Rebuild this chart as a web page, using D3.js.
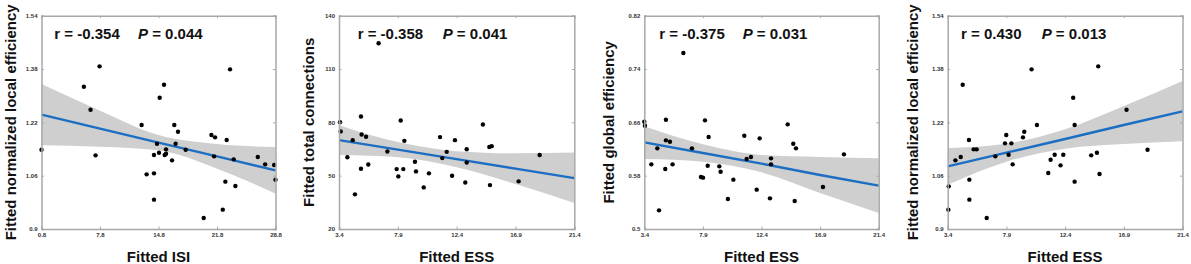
<!DOCTYPE html>
<html><head><meta charset="utf-8">
<script src="https://cdn.jsdelivr.net/npm/d3@7"></script>
<style>body{margin:0;background:#fff}svg{display:block}</style>
</head><body>
<svg id="c" width="1191" height="264"></svg>
<script>
// ---- data ----
const xTicksISI = ["0.8","7.8","14.8","21.8","28.8"];
const xTicksESS = ["3.4","7.9","12.4","16.9","21.4"];
const yTicksLE = ["0.9","1.06","1.22","1.38","1.54"];
const yTicksTC = ["20","50","80","110","140"];
const yTicksGE = ["0.5","0.58","0.66","0.74","0.82"];

const p1X = [0.8,5.87,6.67,7.75,7.27,12.78,13.38,14.26,14.26,14.26,14.62,14.86,14.94,15.46,15.54,15.70,15.70,16.42,16.69,16.85,17.13,18.05,20.21,21.13,21.57,21.45,22.49,22.80,22.96,23.36,23.80,24.00,26.68,27.56,28.64,28.80];
const p1Y = [1.138,1.327,1.258,1.388,1.121,1.212,1.064,1.067,0.988,1.122,1.156,1.129,1.294,1.333,1.122,1.126,1.139,1.106,1.212,1.156,1.192,1.138,0.933,1.182,1.175,1.118,0.958,1.042,1.167,1.379,1.109,1.029,1.116,1.094,1.092,1.048];
const p1Fit = [1.243,1.201,1.159,1.118,1.076];
const p1Upper = [1.335,1.255,1.182,1.155,1.146];
const p1Lower = [1.151,1.147,1.136,1.081,1.006];

const p2X = [3.48,3.53,4.04,4.45,4.62,5.08,5.13,5.08,5.47,5.64,6.43,7.10,7.81,7.94,8.12,8.32,8.40,9.21,9.29,9.88,10.28,11.13,11.30,11.64,12.05,12.27,13.06,13.17,13.17,14.41,14.90,15.08,14.95,17.14,18.75];
const p2Y = [80.1,74.9,60.4,70.0,39.5,83.3,73.2,53.9,71.9,56.3,124.5,63.6,53.7,49.6,81.0,53.7,69.6,57.8,52.4,43.4,51.3,71.7,59.9,63.4,50.0,70.0,46.2,64.9,57.4,78.8,66.1,66.6,44.7,46.8,61.6];
const p2Fit = [70.0,64.65,59.3,53.95,48.6];
const p2Upper = [78.4,68.9,63.8,62.6,63.0];
const p2Lower = [61.6,60.4,54.8,45.3,34.6];

const p3X = [3.40,3.45,3.94,4.40,4.53,5.06,5.06,5.01,5.37,5.57,6.40,7.06,7.75,7.91,8.06,8.27,8.34,9.16,9.26,9.82,10.24,11.08,11.26,11.59,12.03,12.26,13.05,13.13,13.13,14.41,14.84,15.05,14.95,17.12,18.73];
const p3Y = [0.661,0.655,0.597,0.621,0.528,0.664,0.633,0.590,0.631,0.597,0.764,0.621,0.578,0.577,0.663,0.595,0.638,0.594,0.586,0.545,0.574,0.640,0.605,0.608,0.559,0.636,0.546,0.606,0.597,0.657,0.628,0.621,0.542,0.563,0.612];
const p3Fit = [0.630,0.614,0.598,0.581,0.565];
const p3Upper = [0.654,0.627,0.611,0.608,0.606];
const p3Lower = [0.605,0.601,0.585,0.554,0.524];

const p4X = [3.48,3.45,3.99,4.40,4.55,5.03,5.06,5.06,5.39,5.62,6.39,7.05,7.79,7.89,8.07,8.28,8.38,9.17,9.27,9.83,10.24,11.11,11.29,11.60,12.05,12.26,13.02,13.13,13.13,14.40,14.84,14.94,15.04,17.11,18.72];
const p4Y = [1.028,0.958,1.106,1.116,1.333,1.167,1.048,0.988,1.139,1.139,0.933,1.118,1.157,1.182,1.123,1.157,1.094,1.175,1.192,1.379,1.212,1.068,1.108,1.123,1.091,1.123,1.294,1.212,1.042,1.121,1.129,1.388,1.065,1.258,1.138];
const p4Fit = [1.088,1.129,1.170,1.212,1.253];
const p4Upper = [1.143,1.156,1.199,1.269,1.344];
const p4Lower = [1.033,1.102,1.141,1.155,1.163];

const yLabels = ["Fitted normalized local efficiency","Fitted total connections","Fitted global efficiency","Fitted normalized local efficiency"];
const xLabels = ["Fitted ISI","Fitted ESS","Fitted ESS","Fitted ESS"];
const rTexts = ["r = -0.354","r = -0.358","r = -0.375","r = 0.430"];
const pTexts = ["0.044","0.041","0.031","0.013"];

// ---- layout ----
const panels = [
  {L:41.5, R:275.5, yl:10, rx:54.3, px:138, xt:xTicksISI, yt:yTicksLE, X:p1X, Y:p1Y, fit:p1Fit, up:p1Upper, lo:p1Lower},
  {L:339, R:574.3, yl:308, rx:357.7, px:442.7, xt:xTicksESS, yt:yTicksTC, X:p2X, Y:p2Y, fit:p2Fit, up:p2Upper, lo:p2Lower},
  {L:644.3, R:878.7, yl:608, rx:659.3, px:742.7, xt:xTicksESS, yt:yTicksGE, X:p3X, Y:p3Y, fit:p3Fit, up:p3Upper, lo:p3Lower},
  {L:947.7, R:1182.5, yl:912, rx:961, px:1041.7, xt:xTicksESS, yt:yTicksLE, X:p4X, Y:p4Y, fit:p4Fit, up:p4Upper, lo:p4Lower}
];
const T = 15.7, B = 229;
const svg = d3.select("#c");
const font = "'Liberation Sans', Arial, sans-serif";

panels.forEach((p, i) => {
  const xv = p.xt.map(Number), yv = p.yt.map(Number);
  const x = d3.scaleLinear().domain([xv[0], xv[xv.length-1]]).range([p.L, p.R]);
  const y = d3.scaleLinear().domain([yv[0], yv[yv.length-1]]).range([B, T]);
  const g = svg.append("g");

  // band
  const band = p.fit.map((f, k) => ({x: xv[k], u: p.up[k], l: p.lo[k]}));
  g.append("path").datum(band)
    .attr("d", d3.area().x(d => x(d.x)).y0(d => y(d.l)).y1(d => y(d.u)).curve(d3.curveMonotoneX))
    .attr("fill", "#cfcfcf");

  // fit line
  g.append("path").datum(p.fit.map((f, k) => [xv[k], f]))
    .attr("d", d3.line().x(d => x(d[0])).y(d => y(d[1])))
    .attr("fill", "none").attr("stroke", "#1b6ec2").attr("stroke-width", 2.4);

  // dots
  g.selectAll("circle").data(p.X.map((v, k) => [v, p.Y[k]])).join("circle")
    .attr("cx", d => x(d[0])).attr("cy", d => y(d[1])).attr("r", 2.2).attr("fill", "#000");

  // axes (box)
  const ax = g.append("g").attr("font-family", font);
  const bottom = d3.axisBottom(x).tickValues(xv).tickSize(-2.5).tickPadding(4).tickFormat((d, k) => p.xt[k]);
  const left = d3.axisLeft(y).tickValues(yv).tickSize(-2.5).tickPadding(4).tickFormat((d, k) => p.yt[k]);
  const top = d3.axisTop(x).tickValues(xv).tickSize(-2.5).tickFormat("");
  const right = d3.axisRight(y).tickValues(yv).tickSize(-2.5).tickFormat("");
  [[bottom, `translate(0,${B})`], [left, `translate(${p.L},0)`], [top, `translate(0,${T})`], [right, `translate(${p.R},0)`]].forEach(([a, tr]) => {
    const s = ax.append("g").attr("transform", tr).call(a);
    s.select(".domain").attr("stroke", "#a8a8a8").attr("stroke-width", 1.5);
    s.selectAll(".tick line").attr("stroke", "#a8a8a8");
    s.selectAll(".tick text").attr("font-size", 6).attr("font-weight", "bold").attr("fill", "#333");
  });

  // labels
  svg.append("text").attr("transform", `translate(${p.yl},${(T+B)/2}) rotate(-90)`)
    .attr("text-anchor", "middle").attr("dominant-baseline", "central")
    .attr("font-family", font).attr("font-weight", "bold").attr("font-size", 15).attr("fill", "#111")
    .text(yLabels[i]);
  svg.append("text").attr("x", (p.L + p.R) / 2).attr("y", 262)
    .attr("text-anchor", "middle").attr("font-family", font).attr("font-weight", "bold").attr("font-size", 15).attr("fill", "#111")
    .text(xLabels[i]);
  svg.append("text").attr("x", p.rx).attr("y", 39)
    .attr("font-family", font).attr("font-weight", "bold").attr("font-size", 15).attr("fill", "#111")
    .text(rTexts[i]);
  const pt = svg.append("text").attr("x", p.px).attr("y", 39)
    .attr("font-family", font).attr("font-weight", "bold").attr("font-size", 15).attr("fill", "#111");
  pt.append("tspan").attr("font-style", "italic").text("P");
  pt.append("tspan").text(" = " + pTexts[i]);
});
</script>
</body></html>
